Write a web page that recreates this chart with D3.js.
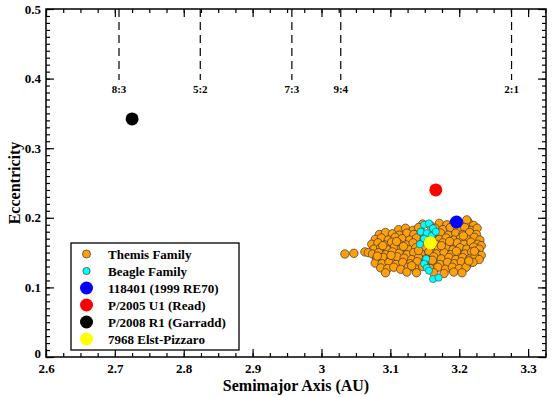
<!DOCTYPE html>
<html>
<head>
<meta charset="utf-8">
<script src="https://cdn.jsdelivr.net/npm/d3@7"></script>
<style>
  body { margin: 0; background: #fff; }
  svg text { font-family: "Liberation Serif", "Times New Roman", serif !important; font-weight: bold; }
</style>
</head>
<body>
<div id="chart"></div>
<script>
const W = 554, H = 397;
const MARGIN = { TOP: 9, RIGHT: 8, BOTTOM: 40, LEFT: 46 };

// x tick labels and y tick labels
const xTicks = [2.6, 2.7, 2.8, 2.9, 3.0, 3.1, 3.2, 3.3];
const yTicks = [0, 0.1, 0.2, 0.3, 0.4, 0.5];

// mean motion resonances with Jupiter
const resonanceNames = ["8:3", "5:2", "7:3", "9:4", "2:1"];
const resonanceA = [2.706, 2.824, 2.957, 3.028, 3.276];

// Themis family members [a, e]
const themis = [
  [3.147,0.191],[3.158,0.189],[3.171,0.192],[3.182,0.190],[3.192,0.193],[3.203,0.191],[3.213,0.194],[3.221,0.189],[3.211,0.197],
  [3.112,0.183],[3.122,0.185],[3.133,0.182],[3.141,0.186],[3.165,0.185],[3.176,0.183],[3.187,0.186],[3.198,0.184],[3.208,0.186],[3.218,0.182],[3.226,0.185],
  [3.084,0.176],[3.093,0.179],[3.103,0.177],[3.113,0.175],[3.124,0.178],[3.134,0.176],[3.145,0.179],[3.162,0.176],[3.173,0.178],[3.184,0.175],[3.195,0.178],[3.205,0.176],[3.215,0.179],[3.225,0.176],
  [3.078,0.169],[3.087,0.171],[3.097,0.168],[3.107,0.172],[3.117,0.170],[3.128,0.168],[3.138,0.171],[3.149,0.169],[3.160,0.172],[3.171,0.169],[3.181,0.171],[3.192,0.168],[3.202,0.171],[3.212,0.169],[3.222,0.172],[3.230,0.168],
  [3.073,0.162],[3.082,0.164],[3.092,0.161],[3.102,0.165],[3.112,0.163],[3.123,0.161],[3.133,0.164],[3.144,0.162],[3.155,0.165],[3.166,0.162],[3.176,0.164],[3.187,0.161],[3.197,0.164],[3.207,0.162],[3.217,0.165],[3.227,0.162],[3.232,0.160],
  [3.076,0.155],[3.086,0.157],[3.096,0.154],[3.106,0.158],[3.116,0.156],[3.127,0.154],[3.137,0.157],[3.148,0.155],[3.159,0.158],[3.170,0.155],[3.181,0.157],[3.191,0.154],[3.201,0.157],[3.211,0.155],[3.221,0.158],[3.229,0.155],
  [3.034,0.148],[3.047,0.149],[3.063,0.151],[3.068,0.150],[3.074,0.148],[3.083,0.150],[3.093,0.147],[3.103,0.151],[3.113,0.149],[3.124,0.147],[3.134,0.150],[3.145,0.148],[3.156,0.151],[3.167,0.148],[3.178,0.150],[3.188,0.147],[3.198,0.150],[3.208,0.148],[3.218,0.151],[3.226,0.148],[3.232,0.146],
  [3.080,0.141],[3.090,0.143],[3.100,0.140],[3.110,0.144],[3.120,0.142],[3.131,0.140],[3.141,0.143],[3.152,0.141],[3.163,0.144],[3.174,0.141],[3.185,0.143],[3.195,0.140],[3.205,0.143],[3.215,0.141],[3.223,0.144],[3.229,0.140],
  [3.078,0.135],[3.088,0.134],[3.098,0.136],[3.108,0.133],[3.118,0.136],[3.129,0.134],[3.139,0.137],[3.150,0.134],[3.161,0.136],[3.172,0.133],[3.183,0.136],[3.193,0.134],[3.203,0.137],[3.213,0.134],[3.220,0.136],
  [3.086,0.128],[3.096,0.127],[3.105,0.129],[3.115,0.126],[3.126,0.129],[3.136,0.127],[3.147,0.130],[3.158,0.127],[3.169,0.129],[3.180,0.126],[3.190,0.129],[3.200,0.127],[3.210,0.129],
  [3.093,0.121],[3.124,0.122],[3.138,0.121],[3.163,0.121],[3.178,0.120],[3.192,0.122],[3.204,0.121],
  [3.089,0.160],[3.119,0.159],[3.141,0.153],[3.174,0.160],[3.196,0.152],[3.214,0.138],[3.131,0.131],[3.101,0.146],
  [3.161,0.139],[3.186,0.166],[3.152,0.174],[3.109,0.166],[3.206,0.174],[3.081,0.145],[3.222,0.152]
];

// Beagle family members [a, e]
const beagle = [
  [3.149,0.190],[3.156,0.192],[3.162,0.185],[3.144,0.180],[3.153,0.178],[3.160,0.174],
  [3.149,0.170],[3.143,0.162],[3.154,0.165],[3.166,0.180],
  [3.152,0.141],[3.149,0.134],[3.153,0.128],[3.156,0.124],[3.162,0.112],[3.170,0.114]
];

// individual objects
const objects = [
  { name: "118401 (1999 RE70)", a: 3.196, e: 0.194, color: "#0000ff" },
  { name: "P/2005 U1 (Read)", a: 3.166, e: 0.240, color: "#ff0000" },
  { name: "P/2008 R1 (Garradd)", a: 2.725, e: 0.342, color: "#000000" },
  { name: "7968 Elst-Pizzaro", a: 3.158, e: 0.164, color: "#ffff00" }
];

const WIDTH = W - MARGIN.LEFT - MARGIN.RIGHT;
const HEIGHT = H - MARGIN.TOP - MARGIN.BOTTOM;

const x = d3.scaleLinear().domain([2.6, 3.326]).range([0, WIDTH]);
const y = d3.scaleLinear().domain([0, 0.5]).range([HEIGHT, 0]);

const svg = d3.select("#chart").append("svg")
  .attr("width", W).attr("height", H);

const g = svg.append("g")
  .attr("transform", `translate(${MARGIN.LEFT}, ${MARGIN.TOP})`);

// minor tick values
const xMinor = d3.range(2.6, 3.326, 0.025).map(v => +v.toFixed(3));
const yMinor = d3.range(0, 0.5001, 0.01).map(v => +v.toFixed(2));

function styleAxis(sel) {
  sel.attr("font-family", null);
  sel.select(".domain").remove();
  sel.selectAll("line").attr("stroke", "#000").attr("stroke-width", 1.2);
  sel.selectAll("text")
    .attr("fill", "#000")
    .style("font-family", "'Liberation Serif', 'Times New Roman', serif")
    .style("font-weight", "bold")
    .style("font-size", "13px");
}

// minor ticks on all four sides
g.append("g").attr("transform", `translate(0,${HEIGHT})`)
  .call(d3.axisBottom(x).tickValues(xMinor).tickSize(-4).tickFormat("")).call(styleAxis);
g.append("g")
  .call(d3.axisTop(x).tickValues(xMinor).tickSize(-4).tickFormat("")).call(styleAxis);
g.append("g")
  .call(d3.axisLeft(y).tickValues(yMinor).tickSize(-4).tickFormat("")).call(styleAxis);
g.append("g").attr("transform", `translate(${WIDTH},0)`)
  .call(d3.axisRight(y).tickValues(yMinor).tickSize(-4).tickFormat("")).call(styleAxis);

// major ticks
g.append("g").attr("transform", `translate(0,${HEIGHT})`)
  .call(d3.axisBottom(x).tickValues(xTicks).tickSize(-8).tickPadding(7)
    .tickFormat(d => d === 3 ? "3" : d3.format(".1f")(d)))
  .call(styleAxis);

g.append("g")
  .call(d3.axisTop(x).tickValues(xTicks).tickSize(-8).tickFormat("")).call(styleAxis);

const yAxis = g.append("g")
  .call(d3.axisLeft(y).tickValues(yTicks).tickSize(-8).tickPadding(5)
    .tickFormat(d => d === 0 ? "0" : d3.format(".1f")(d)))
  .call(styleAxis);
// the "0" label sits a little higher so it clears "2.6"
yAxis.selectAll("text").filter(d => d === 0).attr("dy", "0.05em");

g.append("g").attr("transform", `translate(${WIDTH},0)`)
  .call(d3.axisRight(y).tickValues(yTicks).tickSize(-8).tickFormat("")).call(styleAxis);

// frame
g.append("rect")
  .attr("width", WIDTH).attr("height", HEIGHT)
  .attr("fill", "none").attr("stroke", "#000").attr("stroke-width", 1.5);

// resonances
g.selectAll(".res")
  .data(resonanceA)
  .enter().append("line")
  .attr("class", "res")
  .attr("x1", d => x(d)).attr("x2", d => x(d))
  .attr("y1", y(0.5)).attr("y2", y(0.398))
  .attr("stroke", "#000").attr("stroke-width", 1.2)
  .attr("stroke-dasharray", "8,5");

g.selectAll(".resLabel")
  .data(resonanceA)
  .enter().append("text")
  .attr("class", "resLabel")
  .attr("x", d => x(d)).attr("y", y(0.38))
  .attr("text-anchor", "middle")
  .attr("font-size", 11)
  .text((d, i) => resonanceNames[i]);

// families
g.append("g").selectAll("circle")
  .data(themis)
  .enter().append("circle")
  .attr("cx", d => x(d[0])).attr("cy", d => y(d[1]))
  .attr("r", 4.2)
  .attr("fill", "#ff9f0a").attr("stroke", "#333").attr("stroke-width", 0.7);

g.append("g").selectAll("circle")
  .data(beagle)
  .enter().append("circle")
  .attr("cx", d => x(d[0])).attr("cy", d => y(d[1]))
  .attr("r", 3.6)
  .attr("fill", "#00ffff").attr("stroke", "#444").attr("stroke-width", 0.6);

g.append("g").selectAll("circle")
  .data(objects)
  .enter().append("circle")
  .attr("cx", d => x(d.a)).attr("cy", d => y(d.e))
  .attr("r", 6.5)
  .attr("fill", d => d.color);

// legend
const legendItems = [
  { name: "Themis Family", color: "#ff9f0a", r: 4, stroke: "#333" },
  { name: "Beagle Family", color: "#00ffff", r: 3.6, stroke: "#333" }
].concat(objects.map(o => ({ name: o.name, color: o.color, r: 6.5, stroke: "none" })));

const legend = svg.append("g").attr("transform", "translate(71, 243)");
legend.append("rect")
  .attr("width", 168).attr("height", 107)
  .attr("fill", "#fff").attr("stroke", "#000").attr("stroke-width", 1.3);

const rows = legend.selectAll(".item")
  .data(legendItems)
  .enter().append("g")
  .attr("transform", (d, i) => `translate(0, ${11 + i * 17})`);

rows.append("circle")
  .attr("cx", 15.5).attr("cy", 0)
  .attr("r", d => d.r)
  .attr("fill", d => d.color)
  .attr("stroke", d => d.stroke).attr("stroke-width", 0.7);

rows.append("text")
  .attr("x", 37).attr("y", 4.5)
  .attr("font-size", 13)
  .text(d => d.name);

// axis titles
svg.append("text")
  .attr("x", MARGIN.LEFT + WIDTH / 2).attr("y", 391)
  .attr("text-anchor", "middle")
  .attr("font-size", 16)
  .text("Semimajor Axis (AU)");

svg.append("text")
  .attr("transform", `translate(20, ${MARGIN.TOP + HEIGHT / 2}) rotate(-90)`)
  .attr("text-anchor", "middle")
  .attr("font-size", 16)
  .text("Eccentricity");
</script>
</body>
</html>
